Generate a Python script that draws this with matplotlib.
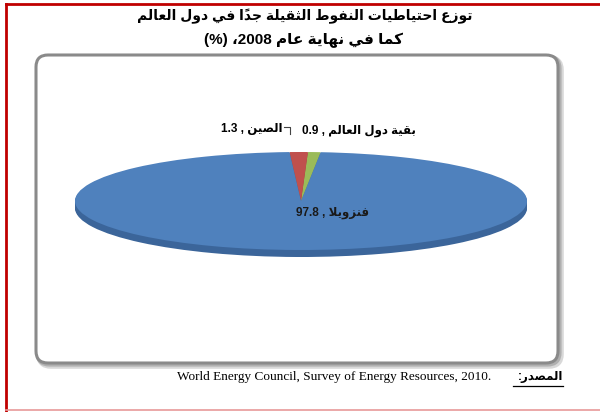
import matplotlib
matplotlib.use('Agg')
import matplotlib.pyplot as plt
from matplotlib.patches import FancyBboxPatch

# Arabic has to be shaped by hand: matplotlib does no joining and no RTL
FORMS = {
    'ا': ('\uFE8D', '\uFE8E', None, None),
    'ب': ('\uFE8F', '\uFE90', '\uFE91', '\uFE92'),
    'ة': ('\uFE93', '\uFE94', None, None),
    'ت': ('\uFE95', '\uFE96', '\uFE97', '\uFE98'),
    'ث': ('\uFE99', '\uFE9A', '\uFE9B', '\uFE9C'),
    'ج': ('\uFE9D', '\uFE9E', '\uFE9F', '\uFEA0'),
    'ح': ('\uFEA1', '\uFEA2', '\uFEA3', '\uFEA4'),
    'د': ('\uFEA9', '\uFEAA', None, None),
    'ر': ('\uFEAD', '\uFEAE', None, None),
    'ز': ('\uFEAF', '\uFEB0', None, None),
    'ص': ('\uFEB9', '\uFEBA', '\uFEBB', '\uFEBC'),
    'ط': ('\uFEC1', '\uFEC2', '\uFEC3', '\uFEC4'),
    'ع': ('\uFEC9', '\uFECA', '\uFECB', '\uFECC'),
    'ف': ('\uFED1', '\uFED2', '\uFED3', '\uFED4'),
    'ق': ('\uFED5', '\uFED6', '\uFED7', '\uFED8'),
    'ك': ('\uFED9', '\uFEDA', '\uFEDB', '\uFEDC'),
    'ل': ('\uFEDD', '\uFEDE', '\uFEDF', '\uFEE0'),
    'م': ('\uFEE1', '\uFEE2', '\uFEE3', '\uFEE4'),
    'ن': ('\uFEE5', '\uFEE6', '\uFEE7', '\uFEE8'),
    'ه': ('\uFEE9', '\uFEEA', '\uFEEB', '\uFEEC'),
    'و': ('\uFEED', '\uFEEE', None, None),
    'ي': ('\uFEF1', '\uFEF2', '\uFEF3', '\uFEF4'),
}
MARKS = '\u064B'


def joins_next(t):
    return t in FORMS and FORMS[t][2] is not None


def is_letter(t):
    return t in FORMS or t == 'LA'


def ar(text):
    tokens = []
    i = 0
    while i < len(text):
        ch = text[i]
        if ch == 'ل' and i + 1 < len(text) and text[i + 1] == 'ا':
            tokens.append(['LA', ''])
            i += 2
            continue
        if ch in MARKS and tokens:
            tokens[-1][1] += ch
        else:
            tokens.append([ch, ''])
        i += 1
    glyphs = []
    for k, (t, m) in enumerate(tokens):
        prev = tokens[k - 1][0] if k > 0 else None
        nxt = tokens[k + 1][0] if k + 1 < len(tokens) else None
        jp = prev is not None and joins_next(prev) and is_letter(t)
        jn = joins_next(t) and nxt is not None and is_letter(nxt)
        if t == 'LA':
            g = '\uFEFC' if jp else '\uFEFB'
        elif t in FORMS:
            iso, fin, ini, med = FORMS[t]
            g = med if (jp and jn) else fin if jp else ini if jn else iso
        else:
            g = t
        glyphs.append(g + m)
    return ''.join(reversed(glyphs))


# data
countries = ['بقية دول العالم', 'الصين', 'فنزويلا']
values = [0.9, 1.3, 97.8]
top_colors = ['#9BBB59', '#C0504D', '#4F81BD']
side_colors = ['#7a9644', '#98403d', '#3b659a']

title1 = ar('توزع احتياطيات النفوط الثقيلة جداً في دول العالم')
title2 = '(%) ،2008 ' + ar('كما في نهاية عام')
source_en = 'World Energy Council, Survey of Energy Resources, 2010.'
source_ar = ar('المصدر:')

AR_FONT = ['Liberation Sans', 'DejaVu Sans']

fig = plt.figure(figsize=(6, 4.12), dpi=100)
bg = fig.add_axes([0, 0, 1, 1])
bg.set_xlim(0, 600)
bg.set_ylim(412, 0)
bg.axis('off')

# page border
bg.plot([6, 6], [4, 412], color='#c00000', lw=2)
bg.plot([6, 600], [4, 4], color='#c00000', lw=2)
bg.plot([6, 600], [410, 410], color='#e89a9a', lw=1.2)

# chart area frame with a soft shadow
for off, col, lw in [(3, '#d8d8d8', 4), (1.5, '#b0b0b0', 3)]:
    bg.add_patch(FancyBboxPatch((36 + off, 55 + off), 522, 308,
                                boxstyle='round,pad=0,rounding_size=12',
                                fc='none', ec=col, lw=lw))
bg.add_patch(FancyBboxPatch((36, 55), 522, 308,
                            boxstyle='round,pad=0,rounding_size=12',
                            fc='white', ec='#8a8a8a', lw=2.2))

# flattened 3D-looking pie
cx, cy, a, b, depth = 301, 201, 226, 49, 7
pax = fig.add_axes([(cx - a) / 600, 1 - (cy + b + depth) / 412,
                    2 * a / 600, (2 * b + depth) / 412])
d = depth / b
steps = 8
for s in range(steps, 0, -1):
    pax.pie(values, colors=side_colors, startangle=85, counterclock=True,
            center=(0, -d * s / steps), radius=1, wedgeprops=dict(linewidth=0))
pax.pie(values, colors=top_colors, startangle=85, counterclock=True,
        center=(0, 0), radius=1, wedgeprops=dict(linewidth=0))
pax.set_aspect('auto')
pax.set_xlim(-1, 1)
pax.set_ylim(-1 - d, 1)
pax.axis('off')

# overlay for all text so nothing hides under the pie
top = fig.add_axes([0, 0, 1, 1])
top.set_xlim(0, 600)
top.set_ylim(412, 0)
top.axis('off')
top.patch.set_alpha(0)

# titles
top.text(305, 16, title1, ha='center', va='center', fontsize=10,
         fontweight='bold', family=AR_FONT)
top.text(303, 40, title2, ha='center', va='center', fontsize=11,
         fontweight='bold', family=AR_FONT)

# data labels
labels = {c: f'{v} , ' + ar(c) for c, v in zip(countries, values)}
top.text(359, 131, labels[countries[0]], ha='center', va='center',
         fontsize=8.5, fontweight='bold', family=AR_FONT)
top.text(252, 129, labels[countries[1]], ha='center', va='center',
         fontsize=8.5, fontweight='bold', family=AR_FONT)
top.text(333, 213, labels[countries[2]], ha='center', va='center',
         fontsize=8.5, fontweight='bold', family=AR_FONT, color='#1a1a1a')
top.plot([284, 290, 290], [127, 127, 134], color='#444444', lw=0.8)

# source
top.text(491, 377, source_en, ha='right', va='center', fontsize=9.5,
         family='Liberation Serif')
top.text(563, 377, source_ar, ha='right', va='center', fontsize=8.5,
         fontweight='bold', family=AR_FONT)
top.plot([513, 563], [386, 386], color='black', lw=0.9)

fig.savefig('out.png', dpi=100)
